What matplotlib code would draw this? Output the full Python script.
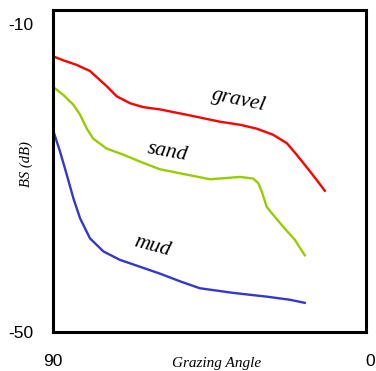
import matplotlib.pyplot as plt

# grazing angle (deg) and backscatter (dB)
gravel_x = [89.9, 87.1, 83.3, 79.5, 77.1, 74.7, 71.9, 68.1, 64.4, 59.6, 52.0, 42.6, 36.9, 32.2,
            27.5, 23.6, 20.8, 18.0, 15.1, 12.8]
gravel_y = [-14.1, -14.6, -15.2, -16.0, -17.0, -18.0, -19.3, -20.2, -20.7, -21.0, -21.7, -22.6,
            -23.0, -23.5, -24.3, -25.4, -26.9, -28.5, -30.2, -31.6]

sand_x = [89.9, 87.1, 84.2, 82.3, 80.4, 78.6, 74.8, 70.0, 65.3, 59.6, 52.0, 45.4, 36.9, 33.2,
          31.7, 30.7, 29.3, 27.9, 24.6, 21.3, 18.5]
sand_y = [-18.1, -19.1, -20.4, -21.7, -23.5, -24.8, -26.1, -26.9, -27.8, -28.8, -29.5, -30.1,
          -29.8, -30.0, -30.6, -31.7, -33.7, -34.5, -36.3, -38.0, -40.0]

mud_x = [89.7, 88.0, 86.1, 84.2, 82.3, 79.5, 75.7, 71.0, 65.3, 59.6, 53.9, 48.3, 38.9, 29.2,
         22.7, 18.5]
mud_y = [-24.1, -26.5, -29.5, -32.6, -35.2, -37.8, -39.5, -40.6, -41.5, -42.4, -43.4, -44.3,
         -44.9, -45.4, -45.8, -46.2]

fig = plt.figure(figsize=(3.76, 3.71), dpi=100)
ax = fig.add_axes([53 / 376, 39 / 371, 313 / 376, 322 / 371])

ax.plot(gravel_x, gravel_y, color='#ff0000', linewidth=1.7, solid_joinstyle='round')
ax.plot(sand_x, sand_y, color='#99cc00', linewidth=1.7, solid_joinstyle='round')
ax.plot(mud_x, mud_y, color='#3535d0', linewidth=1.7, solid_joinstyle='round')

ax.text(37.2, -19.8, 'gravel', fontsize=15.5, family='Liberation Serif', style='italic',
        rotation=-12, ha='center', va='center')
ax.text(57.6, -26.6, 'sand', fontsize=15.5, family='Liberation Serif', style='italic',
        rotation=-10, ha='center', va='center')
ax.text(61.9, -38.9, 'mud', fontsize=15.5, family='Liberation Serif', style='italic',
        rotation=-15, ha='center', va='center')

ax.set_xlim(90, 1.1)
ax.set_ylim(-50, -8.05)
ax.set_xticks([])
ax.set_yticks([])
for s in ax.spines.values():
    s.set_linewidth(2.2)

# tick values sit away from the box, as in the original
fig.text(21 / 376, 1 - 25 / 371, '-10', fontsize=12.5, family='Liberation Sans', ha='center', va='center')
fig.text(21 / 376, 1 - 333 / 371, '-50', fontsize=12.5, family='Liberation Sans', ha='center', va='center')
fig.text(53 / 376, 1 - 362 / 371, '90', fontsize=12.5, family='Liberation Sans', ha='center', va='center')
fig.text(370 / 376, 1 - 362 / 371, '0', fontsize=12.5, family='Liberation Sans', ha='center', va='center')
fig.text(217 / 376, 1 - 363 / 371, 'Grazing Angle', fontsize=11, family='Liberation Serif',
         style='italic', ha='center', va='center')
fig.text(26 / 376, 1 - 164 / 371, 'BS (dB)', fontsize=10.5, family='Liberation Serif',
         style='italic', rotation=90, ha='center', va='center')

fig.savefig('out.png', dpi=100)
